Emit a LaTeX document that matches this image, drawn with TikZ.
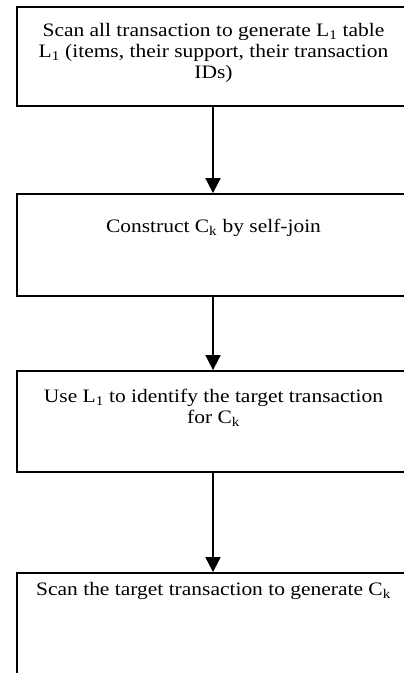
\documentclass[tikz,border=0pt]{standalone}
\usepackage{fontspec}
\setmainfont[FakeStretch=1.13]{Liberation Serif}
\usetikzlibrary{arrows.meta}
\tikzset{
  stepbox/.style={draw=black, line width=1.8pt, rectangle, minimum width=392pt, inner sep=0pt},
  steptext/.style={font=\fontsize{19}{21}\selectfont, align=center, anchor=base, inner sep=0pt},
  flow/.style={line width=1.8pt, -{Triangle[width=15pt,length=15pt]}}
}
\begin{document}
\begin{tikzpicture}[x=1pt,y=-1pt]
\useasboundingbox (0,0) rectangle (404,673);
\clip (0,0) rectangle (404,673);
\fill[white] (0,0) rectangle (404,673);
\node[stepbox, minimum height=99pt] (b1) at (213,56.5) {};
\node[stepbox, minimum height=102pt] (b2) at (213,245) {};
\node[stepbox, minimum height=101pt] (b3) at (213,421.5) {};
\node[stepbox, minimum height=127pt] (b4) at (213,636.5) {};
% base anchor of a multi-line node lies on its last line
\node[steptext] (t1) at (213.5,78.7) {Scan all transaction to generate L\textsubscript{1} table\\L\textsubscript{1} (items, their support, their transaction\\IDs)};
\node[steptext] (t2) at (213.5,232.3) {Construct C\textsubscript{k} by self-join};
\node[steptext] (t3) at (213.5,423.7) {Use L\textsubscript{1} to identify the target transaction\\for C\textsubscript{k}};
\node[steptext] (t4) at (213.5,595) {Scan the target transaction to generate C\textsubscript{k}};
\draw[flow] (b1.south) -- (b2.north);
\draw[flow] (b2.south) -- (b3.north);
\draw[flow] (b3.south) -- (b4.north);
\end{tikzpicture}
\end{document}
